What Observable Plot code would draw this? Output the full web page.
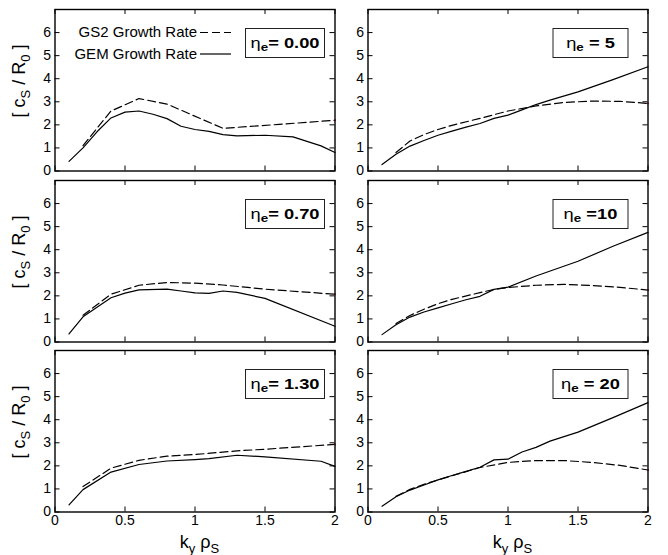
<!DOCTYPE html>
<html>
<head>
<meta charset="utf-8">
<script src="https://cdn.jsdelivr.net/npm/d3@7"></script>
<script src="https://cdn.jsdelivr.net/npm/@observablehq/plot@0.6"></script>
<style>
  body { margin: 0; background: #fff; }
  #chart { position: relative; width: 668px; height: 555px; font-family: "Liberation Sans", Arial, sans-serif; }
  #chart svg { position: absolute; overflow: visible; }
</style>
</head>
<body>
<div id="chart"></div>
<script>
// ---------- axis ticks ----------
const xTicks = [0, 0.5, 1, 1.5, 2];
const yTicks = [0, 1, 2, 3, 4, 5, 6];

// ---------- series labels ----------
const legendGS2 = "GS2 Growth Rate";
const legendGEM = "GEM Growth Rate";
const etaTexts = ["= 0.00", " = 5", "= 0.70", " =10", "= 1.30", " = 20"];

// ---------- η_e = 0.00 ----------
const gemK_000 = [0.1, 0.2, 0.3, 0.4, 0.5, 0.6, 0.7, 0.8, 0.9, 1.0, 1.1, 1.2, 1.3, 1.5, 1.7, 1.9, 2.0];
const gem_000  = [0.42, 1.0, 1.7, 2.3, 2.55, 2.6, 2.46, 2.27, 1.94, 1.8, 1.72, 1.58, 1.52, 1.55, 1.48, 1.09, 0.8];
const gs2K_000 = [0.2, 0.4, 0.6, 0.8, 1.2, 1.6, 2.0];
const gs2_000  = [1.1, 2.6, 3.14, 2.9, 1.85, 2.02, 2.2];

// ---------- η_e = 5 ----------
const gemK_5 = [0.1, 0.2, 0.3, 0.4, 0.5, 0.6, 0.7, 0.8, 0.9, 1.0, 1.1, 1.2, 1.3, 1.5, 1.75, 2.0];
const gem_5  = [0.28, 0.73, 1.08, 1.32, 1.55, 1.73, 1.9, 2.06, 2.28, 2.42, 2.65, 2.88, 3.07, 3.43, 3.96, 4.52];
const gs2K_5 = [0.2, 0.3, 0.4, 0.5, 0.6, 0.8, 1.0, 1.2, 1.4, 1.6, 1.8, 2.0];
const gs2_5  = [0.8, 1.3, 1.58, 1.8, 1.98, 2.28, 2.6, 2.82, 2.97, 3.03, 3.02, 2.93];

// ---------- η_e = 0.70 ----------
const gemK_070 = [0.1, 0.2, 0.4, 0.5, 0.6, 0.8, 0.9, 1.0, 1.1, 1.2, 1.3, 1.5, 2.0];
const gem_070  = [0.35, 1.09, 1.92, 2.12, 2.26, 2.29, 2.21, 2.13, 2.11, 2.21, 2.15, 1.89, 0.68];
const gs2K_070 = [0.2, 0.4, 0.6, 0.8, 1.0, 1.2, 1.5, 2.0];
const gs2_070  = [1.16, 2.07, 2.46, 2.58, 2.55, 2.47, 2.29, 2.07];

// ---------- η_e = 10 ----------
const gemK_10 = [0.1, 0.2, 0.3, 0.4, 0.5, 0.6, 0.7, 0.8, 0.9, 1.0, 1.2, 1.5, 1.75, 2.0];
const gem_10  = [0.32, 0.75, 1.08, 1.3, 1.48, 1.66, 1.83, 1.98, 2.28, 2.38, 2.86, 3.5, 4.15, 4.75];
const gs2K_10 = [0.2, 0.3, 0.4, 0.5, 0.6, 0.8, 0.9, 1.0, 1.2, 1.4, 1.6, 1.8, 2.0];
const gs2_10  = [0.8, 1.15, 1.42, 1.66, 1.85, 2.14, 2.28, 2.36, 2.46, 2.5, 2.45, 2.37, 2.25];

// ---------- η_e = 1.30 ----------
const gemK_130 = [0.1, 0.2, 0.4, 0.6, 0.8, 1.0, 1.1, 1.3, 1.5, 1.9, 2.0];
const gem_130  = [0.31, 0.97, 1.73, 2.06, 2.21, 2.27, 2.31, 2.46, 2.39, 2.2, 1.98];
const gs2K_130 = [0.2, 0.4, 0.6, 0.8, 1.0, 1.3, 1.5, 2.0];
const gs2_130  = [1.1, 1.9, 2.24, 2.42, 2.49, 2.65, 2.72, 2.93];

// ---------- η_e = 20 ----------
const gemK_20 = [0.1, 0.2, 0.3, 0.4, 0.5, 0.6, 0.7, 0.8, 0.9, 1.0, 1.1, 1.2, 1.3, 1.5, 1.75, 2.0];
const gem_20  = [0.25, 0.66, 0.95, 1.17, 1.39, 1.58, 1.76, 1.94, 2.26, 2.29, 2.6, 2.8, 3.07, 3.46, 4.09, 4.74];
const gs2K_20 = [0.2, 0.3, 0.4, 0.5, 0.6, 0.8, 1.0, 1.2, 1.4, 1.6, 1.8, 2.0];
const gs2_20  = [0.68, 0.98, 1.2, 1.39, 1.57, 1.93, 2.15, 2.23, 2.23, 2.15, 2.02, 1.82];

const panels = [
  {row: 0, col: 0, gemK: gemK_000, gem: gem_000, gsK: gs2K_000, gs: gs2_000, eta: etaTexts[0], legend: true},
  {row: 0, col: 1, gemK: gemK_5,   gem: gem_5,   gsK: gs2K_5,   gs: gs2_5,   eta: etaTexts[1]},
  {row: 1, col: 0, gemK: gemK_070, gem: gem_070, gsK: gs2K_070, gs: gs2_070, eta: etaTexts[2]},
  {row: 1, col: 1, gemK: gemK_10,  gem: gem_10,  gsK: gs2K_10,  gs: gs2_10,  eta: etaTexts[3]},
  {row: 2, col: 0, gemK: gemK_130, gem: gem_130, gsK: gs2K_130, gs: gs2_130, eta: etaTexts[4]},
  {row: 2, col: 1, gemK: gemK_20,  gem: gem_20,  gsK: gs2K_20,  gs: gs2_20,  eta: etaTexts[5]}
];

// ---------- layout ----------
const FONT = '"Liberation Sans", Arial, Helvetica, sans-serif';
const frameW = 280, frameH = 161.5, mT = 9;
const rowTops = [9, 179.5, 349.5];
const cols = [
  {svgLeft: 0,   svgW: 340, mL: 54.5, mR: 5.5},
  {svgLeft: 334, svgW: 334, mL: 33.5, mR: 20.5}
];

const container = document.getElementById("chart");

panels.forEach(p => {
  const c = cols[p.col];
  const isBottom = p.row === 2;
  const mB = isBottom ? 44 : 10;
  const height = mT + frameH + mB;

  const marks = [
    Plot.tickY(yTicks, {y: d => d, insetRight: frameW - 5, stroke: "#000", strokeWidth: 1}),
    Plot.tickY(yTicks, {y: d => d, insetLeft: frameW - 5, stroke: "#000", strokeWidth: 1}),
    Plot.tickX(xTicks, {x: d => d, insetTop: frameH - 5, stroke: "#000", strokeWidth: 1}),
    Plot.tickX(xTicks, {x: d => d, insetBottom: frameH - 5, stroke: "#000", strokeWidth: 1}),
    Plot.line(p.gs, {x: (d, i) => p.gsK[i], y: d => d, stroke: "#000", strokeWidth: 1.2, strokeDasharray: "8,4"}),
    Plot.line(p.gem, {x: (d, i) => p.gemK[i], y: d => d, stroke: "#000", strokeWidth: 1.2}),
    Plot.dot([p.gs[p.gs.length - 1]], {x: () => p.gsK[p.gsK.length - 1], y: d => d, r: 1, fill: "#e02020"}),
    Plot.frame({stroke: "#000", strokeWidth: 1.4}),
    Plot.axisY(yTicks, {tickSize: 0, tickPadding: 4, fontSize: 14, label: null, tickFormat: d => String(d)})
  ];
  if (isBottom) {
    marks.push(Plot.axisX(xTicks, {tickSize: 0, tickPadding: 3, fontSize: 14, label: null, tickFormat: d => String(d)}));
  }

  const svg = Plot.plot({
    width: c.svgW,
    height,
    marginLeft: c.mL,
    marginRight: c.mR,
    marginTop: mT,
    marginBottom: mB,
    x: {domain: [0, 2], axis: isBottom ? undefined : null},
    y: {domain: [0, 7]},
    style: {fontFamily: FONT, fontSize: "14px", color: "#000", background: "transparent", overflow: "visible"},
    marks
  });
  svg.style.left = c.svgLeft + "px";
  svg.style.top = (rowTops[p.row] - mT) + "px";
  svg.style.maxWidth = "none";
  container.appendChild(svg);

  const g = d3.select(svg).append("g").attr("font-family", FONT).attr("fill", "#000");
  const fx0 = c.mL, fx1 = c.svgW - c.mR, fy0 = mT;

  // η_e box
  const bw = p.col === 0 ? 79 : 75, bh = 29;
  const bx = fx1 - (p.col === 0 ? 10 : 19.5) - bw, by = fy0 + 19.5;
  g.append("rect").attr("x", bx).attr("y", by).attr("width", bw).attr("height", bh)
    .attr("fill", "#fff").attr("stroke", "#222").attr("stroke-width", 1);
  const t = g.append("text")
    .attr("transform", `translate(${bx + bw / 2},${by + bh / 2 + 5.4}) scale(1.22,1)`)
    .attr("text-anchor", "middle").attr("font-size", 15);
  t.append("tspan").text("η");
  t.append("tspan").attr("font-weight", "bold").attr("font-size", 11).attr("dy", 3).text("e");
  t.append("tspan").attr("font-weight", "bold").attr("dy", -3).style("white-space", "pre").text(p.eta);

  // legend (first panel)
  if (p.legend) {
    g.append("text").attr("x", 197).attr("y", 37).attr("text-anchor", "end").attr("font-size", 15).text(legendGS2);
    g.append("text").attr("x", 197).attr("y", 58.5).attr("text-anchor", "end").attr("font-size", 15).text(legendGEM);
    g.append("line").attr("x1", 200).attr("x2", 231).attr("y1", 32.5).attr("y2", 32.5)
      .attr("stroke", "#000").attr("stroke-width", 1.2).attr("stroke-dasharray", "8,4");
    g.append("line").attr("x1", 200).attr("x2", 231).attr("y1", 54).attr("y2", 54)
      .attr("stroke", "#000").attr("stroke-width", 1.2);
  }

  // y label (left column)
  if (p.col === 0) {
    const yl = g.append("text").attr("transform", `translate(25,${fy0 + 72}) rotate(-90)`)
      .attr("text-anchor", "middle").attr("font-size", 18).style("white-space", "pre");
    yl.append("tspan").text("[ c");
    yl.append("tspan").attr("font-size", 13).attr("dy", 5).text("S");
    yl.append("tspan").attr("dy", -5).text(" / R");
    yl.append("tspan").attr("font-size", 13).attr("dy", 5).text("0");
    yl.append("tspan").attr("dy", -5).text(" ]");
  }

  // x label (bottom row)
  if (isBottom) {
    const xl = g.append("text").attr("x", (fx0 + fx1) / 2 + 5).attr("y", fy0 + frameH + 36)
      .attr("text-anchor", "middle").attr("font-size", 18).style("white-space", "pre");
    xl.append("tspan").text("k");
    xl.append("tspan").attr("font-size", 13).attr("dy", 5).text("y");
    xl.append("tspan").attr("dy", -5).text(" ρ");
    xl.append("tspan").attr("font-size", 13).attr("dy", 5).text("S");
  }
});
</script>
</body>
</html>
